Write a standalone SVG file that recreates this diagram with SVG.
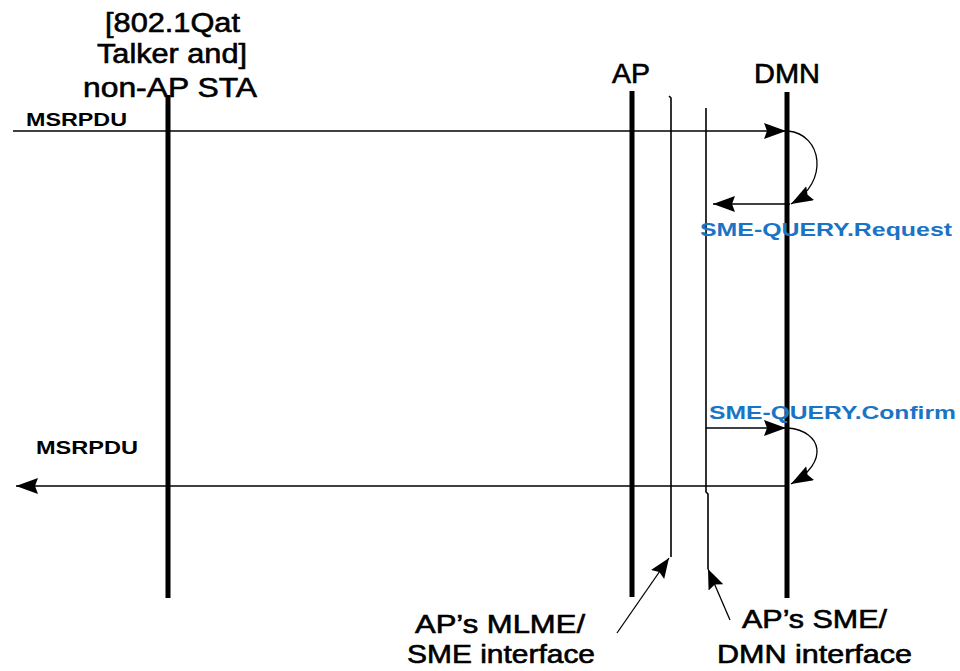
<svg xmlns="http://www.w3.org/2000/svg" width="960" height="671" viewBox="0 0 960 671">
<style>
.hdr{font-family:"Liberation Sans",Arial,sans-serif;font-size:27px;fill:#000;stroke:#000;stroke-width:0.6}
.lbl{font-family:"Liberation Sans",Arial,sans-serif;font-size:25px;fill:#000;stroke:#000;stroke-width:0.6}
.msg{font-family:"Liberation Sans",Arial,sans-serif;font-size:18px;font-weight:bold;fill:#000}
.blue{font-family:"Liberation Sans",Arial,sans-serif;font-size:19px;font-weight:bold;fill:#1a74c6}
.life{stroke:#000;stroke-width:5;fill:none}
.thin{stroke:#000;stroke-width:1.6;fill:none}
.arr{stroke:#000;stroke-width:1.6;fill:none;marker-end:url(#ah)}
.curve{stroke:#000;stroke-width:1.3;fill:none;marker-end:url(#ah)}
.ptr{stroke:#000;stroke-width:1.3;fill:none;marker-end:url(#ahs)}
</style>
<defs>
<marker id="ah" markerUnits="userSpaceOnUse" markerWidth="24" markerHeight="18" refX="22" refY="8" orient="auto">
<path d="M0,0 L22,8 L0,16 L3,8 Z" fill="#000"/>
</marker>
<marker id="ahs" markerUnits="userSpaceOnUse" markerWidth="24" markerHeight="18" refX="20" refY="8" orient="auto">
<path d="M0,0 L20,8 L0,16 L3,8 Z" fill="#000"/>
</marker>
</defs>
<rect width="960" height="671" fill="#fff"/>

<g id="node-sta">
<text class="hdr" x="105" y="32" textLength="135" lengthAdjust="spacingAndGlyphs">[802.1Qat</text>
<text class="hdr" x="97" y="63" textLength="150" lengthAdjust="spacingAndGlyphs">Talker and]</text>
<text class="hdr" x="83" y="97" textLength="174" lengthAdjust="spacingAndGlyphs">non-AP STA</text>
<line class="life" x1="168" y1="95" x2="168" y2="598"/>
</g>

<g id="node-ap">
<text class="hdr" x="612" y="83" textLength="38" lengthAdjust="spacingAndGlyphs">AP</text>
<line class="life" x1="632" y1="91" x2="632" y2="597"/>
</g>

<g id="node-mlme-if">
<path class="thin" d="M669,96 L671,98 L671,557"/>
</g>

<g id="node-sme-if">
<path class="thin" d="M706,108 L706,492 L708,494 L708,569"/>
</g>

<g id="node-dmn">
<text class="hdr" x="754" y="83" textLength="66" lengthAdjust="spacingAndGlyphs">DMN</text>
<line class="life" x1="787" y1="92" x2="787" y2="598"/>
</g>

<g id="connectors">
<line class="arr" x1="13" y1="131" x2="786" y2="131"/>
<path class="curve" d="M788,131 C822,134 830,182 791,204"/>
<line class="arr" x1="790" y1="204" x2="713" y2="204"/>
<line class="arr" x1="706" y1="428" x2="786" y2="428"/>
<path class="curve" d="M788,428 C822,431 830,462 791,484"/>
<line class="arr" x1="787" y1="486" x2="16" y2="486"/>
<line class="ptr" x1="617" y1="633" x2="669" y2="558"/>
<line class="ptr" x1="730" y1="620" x2="708" y2="569"/>
</g>

<g id="labels">
<text class="msg" x="26" y="126" textLength="101" lengthAdjust="spacingAndGlyphs">MSRPDU</text>
<text class="msg" x="36" y="454" textLength="102" lengthAdjust="spacingAndGlyphs">MSRPDU</text>
<text class="blue" x="700" y="236" textLength="252" lengthAdjust="spacingAndGlyphs">SME-QUERY.Request</text>
<text class="blue" x="709" y="419" textLength="247" lengthAdjust="spacingAndGlyphs">SME-QUERY.Confirm</text>
<text class="lbl" x="415" y="633" textLength="170" lengthAdjust="spacingAndGlyphs">AP’s MLME/</text>
<text class="lbl" x="407" y="663" textLength="188" lengthAdjust="spacingAndGlyphs">SME interface</text>
<text class="lbl" x="742" y="628" textLength="145" lengthAdjust="spacingAndGlyphs">AP’s SME/</text>
<text class="lbl" x="717" y="663" textLength="195" lengthAdjust="spacingAndGlyphs">DMN interface</text>
</g>
</svg>
